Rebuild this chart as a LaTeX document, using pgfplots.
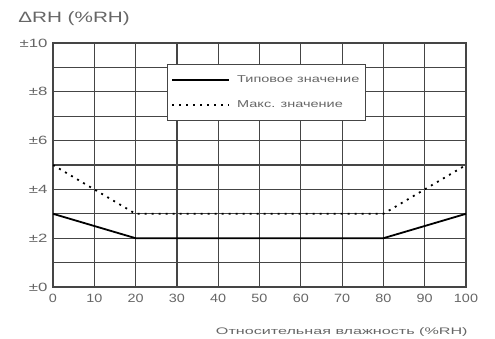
\documentclass[border=0pt]{standalone}
\usepackage{pgfplots}
\pgfplotsset{compat=1.18}
\usepackage{fontspec}
\setmainfont{Liberation Sans}
\definecolor{txt}{HTML}{666666}
\definecolor{grd}{HTML}{454545}
\begin{document}
\begin{tikzpicture}
\begin{axis}[
  name=a,
  scale only axis,
  width=413pt, height=244pt,
  xmin=0, xmax=100, ymin=0, ymax=10,
  xtick={0,10,...,100},
  ytick={0,2,...,10},
  minor ytick={1,3,...,9},
  yticklabel={\scalebox{1.4}[1]{±\pgfmathprintnumber{\tick}}},
  xticklabel={\scalebox{1.2}[1]{\pgfmathprintnumber{\tick}}},
  /pgf/number format/assume math mode=true,
  ticklabel style={font=\fontsize{12}{13}\selectfont, text=txt},
  xmajorgrids, ymajorgrids, yminorgrids,
  grid style={grd, line width=1.2pt},
  minor grid style={grd, line width=1.2pt},
  axis line style={grd, line width=1.2pt},
  major tick length=0pt, minor tick length=0pt,
  xticklabel style={yshift=-4pt},
  yticklabel style={xshift=-2pt},
  legend style={at={(axis cs:27.6,9.14)}, anchor=north west,
    draw=grd, line width=1pt, fill=white, inner xsep=4pt, inner ysep=9pt,
    font=\fontsize{10}{10}\selectfont, text=txt,
    row sep=13pt, cells={anchor=west}},
  legend image code/.code={\draw[#1] (0cm,0cm) -- (2cm,0cm);},
]
\addplot[black, line width=1.8pt] coordinates {(0,3) (20,2) (80,2) (100,3)};
\addlegendentry{\hspace{5pt}\scalebox{1.45}[1]{Типовое значение}}
\addplot[black, line width=1.8pt, dash pattern=on 2pt off 5pt] coordinates {(0,5) (20,3) (80,3) (100,5)};
\addlegendentry{\hspace{5pt}\scalebox{1.45}[1]{Макс. значение}}
\end{axis}
\path (a.south west) ++(-53pt,-51pt) coordinate (bl);
\path (a.north east) ++(29pt,43pt) coordinate (tr);
\useasboundingbox (bl) rectangle (tr);
\node[anchor=west, text=txt, font=\fontsize{15}{16}\selectfont, xscale=1.38, inner sep=0pt] at ([xshift=18pt,yshift=-19pt]bl |- tr) {ΔRH (\%RH)};
\node[anchor=east, text=txt, font=\fontsize{9.5}{10}\selectfont, xscale=1.7, inner sep=0pt] at ([xshift=2pt,yshift=6pt]a.south east |- bl) {Относительная влажность (\%RH)};
\end{tikzpicture}
\end{document}
